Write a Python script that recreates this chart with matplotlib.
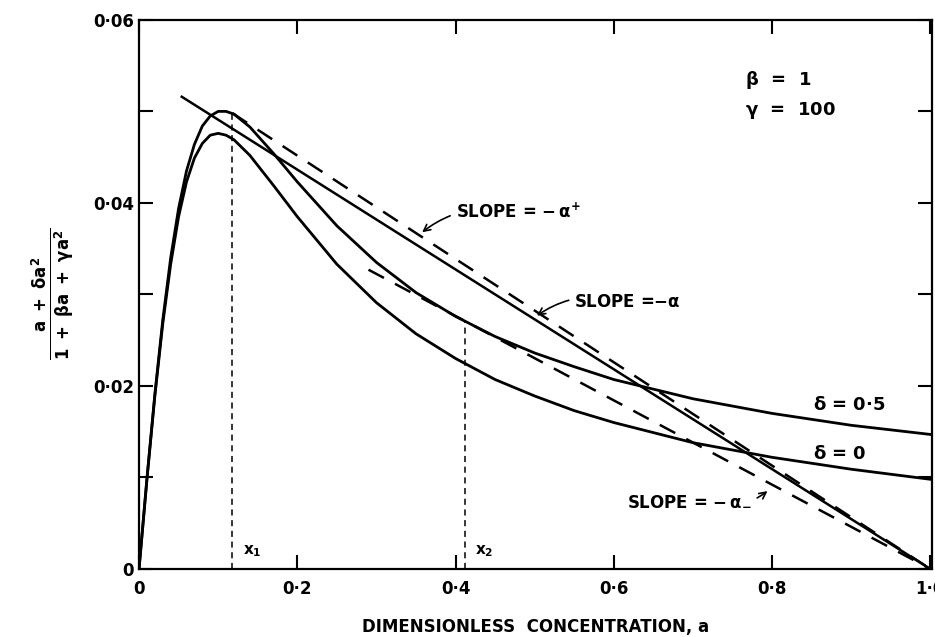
import matplotlib
matplotlib.use("Agg")
import matplotlib.pyplot as plt
from matplotlib.ticker import FixedLocator, MultipleLocator

plt.rcParams['font.family'] = ['DejaVu Sans']
plt.rcParams['font.weight'] = 'bold'
plt.rcParams['axes.labelweight'] = 'bold'
plt.rcParams['mathtext.fontset'] = 'dejavusans'
plt.rcParams['mathtext.default'] = 'bf'

# concentration grid
conc = [0, 0.01, 0.02, 0.03, 0.04, 0.05, 0.06, 0.07, 0.08, 0.09, 0.10, 0.11,
        0.12, 0.14, 0.17, 0.20, 0.25, 0.30, 0.35, 0.40, 0.45, 0.50, 0.55,
        0.60, 0.70, 0.80, 0.90, 1.00]
rate_d0 = [0, .0098, .0189, .0268, .0333, .0385, .0423, .0449, .0465, .0474,
           .0476, .0474, .0469, .0452, .0419, .0385, .0333, .0291, .0257,
           .0230, .0207, .0189, .0173, .0160, .0138, .0122, .0109, .0098]
rate_d05 = [0, .0099, .0191, .0272, .0340, .0394, .0435, .0464, .0484, .0495,
            .0500, .0500, .0497, .0483, .0454, .0423, .0375, .0335, .0302,
            .0276, .0254, .0236, .0221, .0207, .0186, .0170, .0157, .0147]

# straight lines (end points)
slope_a = [0.054, 1.0]
slope_f = [0.0516, 0.0]
plus_a = [0.118, 1.0]
plus_f = [0.0498, 0.0]
minus_a = [0.29, 1.0]
minus_f = [0.0327, 0.0]

x1, x1_top = 0.118, 0.0498
x2, x2_top = 0.412, 0.0271

xticks = [0, 0.2, 0.4, 0.6, 0.8, 1.0]
xlabels = ['0', '0·2', '0·4', '0·6', '0·8', '1·0']
yticks = [0, 0.02, 0.04, 0.06]
ylabels = ['0', '0·02', '0·04', '0·06']

fig = plt.figure(figsize=(9.35, 6.37), dpi=100)
ax = fig.add_axes([0.1487, 0.1068, 0.848, 0.862])

lw = 2.0
ax.plot(conc, rate_d0, color='black', lw=lw)
ax.plot(conc, rate_d05, color='black', lw=lw)
ax.plot(slope_a, slope_f, color='black', lw=1.8)
ax.plot(plus_a, plus_f, color='black', lw=1.8, dashes=(7, 5))
ax.plot(minus_a, minus_f, color='black', lw=1.8, dashes=(7, 5))
ax.plot([x1, x1], [0, x1_top], color='black', lw=1.1, dashes=(4, 3))
ax.plot([x2, x2], [0, x2_top], color='black', lw=1.1, dashes=(4, 3))

ax.set_xlim(0, 1.002)
ax.set_ylim(0, 0.06)
ax.xaxis.set_major_locator(FixedLocator(xticks))
ax.set_xticklabels(xlabels)
ax.yaxis.set_major_locator(FixedLocator(yticks))
ax.set_yticklabels(ylabels)
ax.yaxis.set_minor_locator(MultipleLocator(0.01))
ax.tick_params(which='both', direction='in', length=10, width=1.5,
               top=True, right=True, labelsize=12)
ax.tick_params(axis='x', pad=8)
for sp in ax.spines.values():
    sp.set_linewidth(1.6)

ax.text(0.766, 0.0534, r'$\beta$  =  1', fontsize=13, va='center')
ax.text(0.766, 0.0501, r'$\gamma$  =  100', fontsize=13, va='center')
ax.text(0.852, 0.0179, r'$\delta$ = 0·5', fontsize=13, va='center')
ax.text(0.852, 0.0126, r'$\delta$ = 0', fontsize=13, va='center')
ax.text(0.132, 0.0020, r'x$_1$', fontsize=11, va='center')
ax.text(0.425, 0.0020, r'x$_2$', fontsize=11, va='center')

ax.annotate(r'SLOPE = $-\,\alpha^{+}$', xy=(0.355, 0.0366), xytext=(0.400, 0.0390),
            fontsize=12, va='center',
            arrowprops=dict(arrowstyle='->', color='black', lw=1.2,
                            connectionstyle='arc3,rad=0.25'))
ax.annotate(r'SLOPE =$-\alpha$', xy=(0.50, 0.0275), xytext=(0.550, 0.0292),
            fontsize=12, va='center',
            arrowprops=dict(arrowstyle='->', color='black', lw=1.2,
                            connectionstyle='arc3,rad=0.25'))
ax.annotate(r'SLOPE = $-\,\alpha_{-}$', xy=(0.797, 0.0087), xytext=(0.617, 0.0075),
            fontsize=12, va='center',
            arrowprops=dict(arrowstyle='->', color='black', lw=1.2,
                            connectionstyle='arc3,rad=0.3'))

ax.set_xlabel('DIMENSIONLESS  CONCENTRATION, a', fontsize=12, labelpad=14)
ax.set_ylabel(r'$\frac{a\ +\ \delta a^2}{1\ +\ \beta a\ +\ \gamma a^2}$',
              fontsize=17, labelpad=12)

fig.savefig('out.png', dpi=100)
